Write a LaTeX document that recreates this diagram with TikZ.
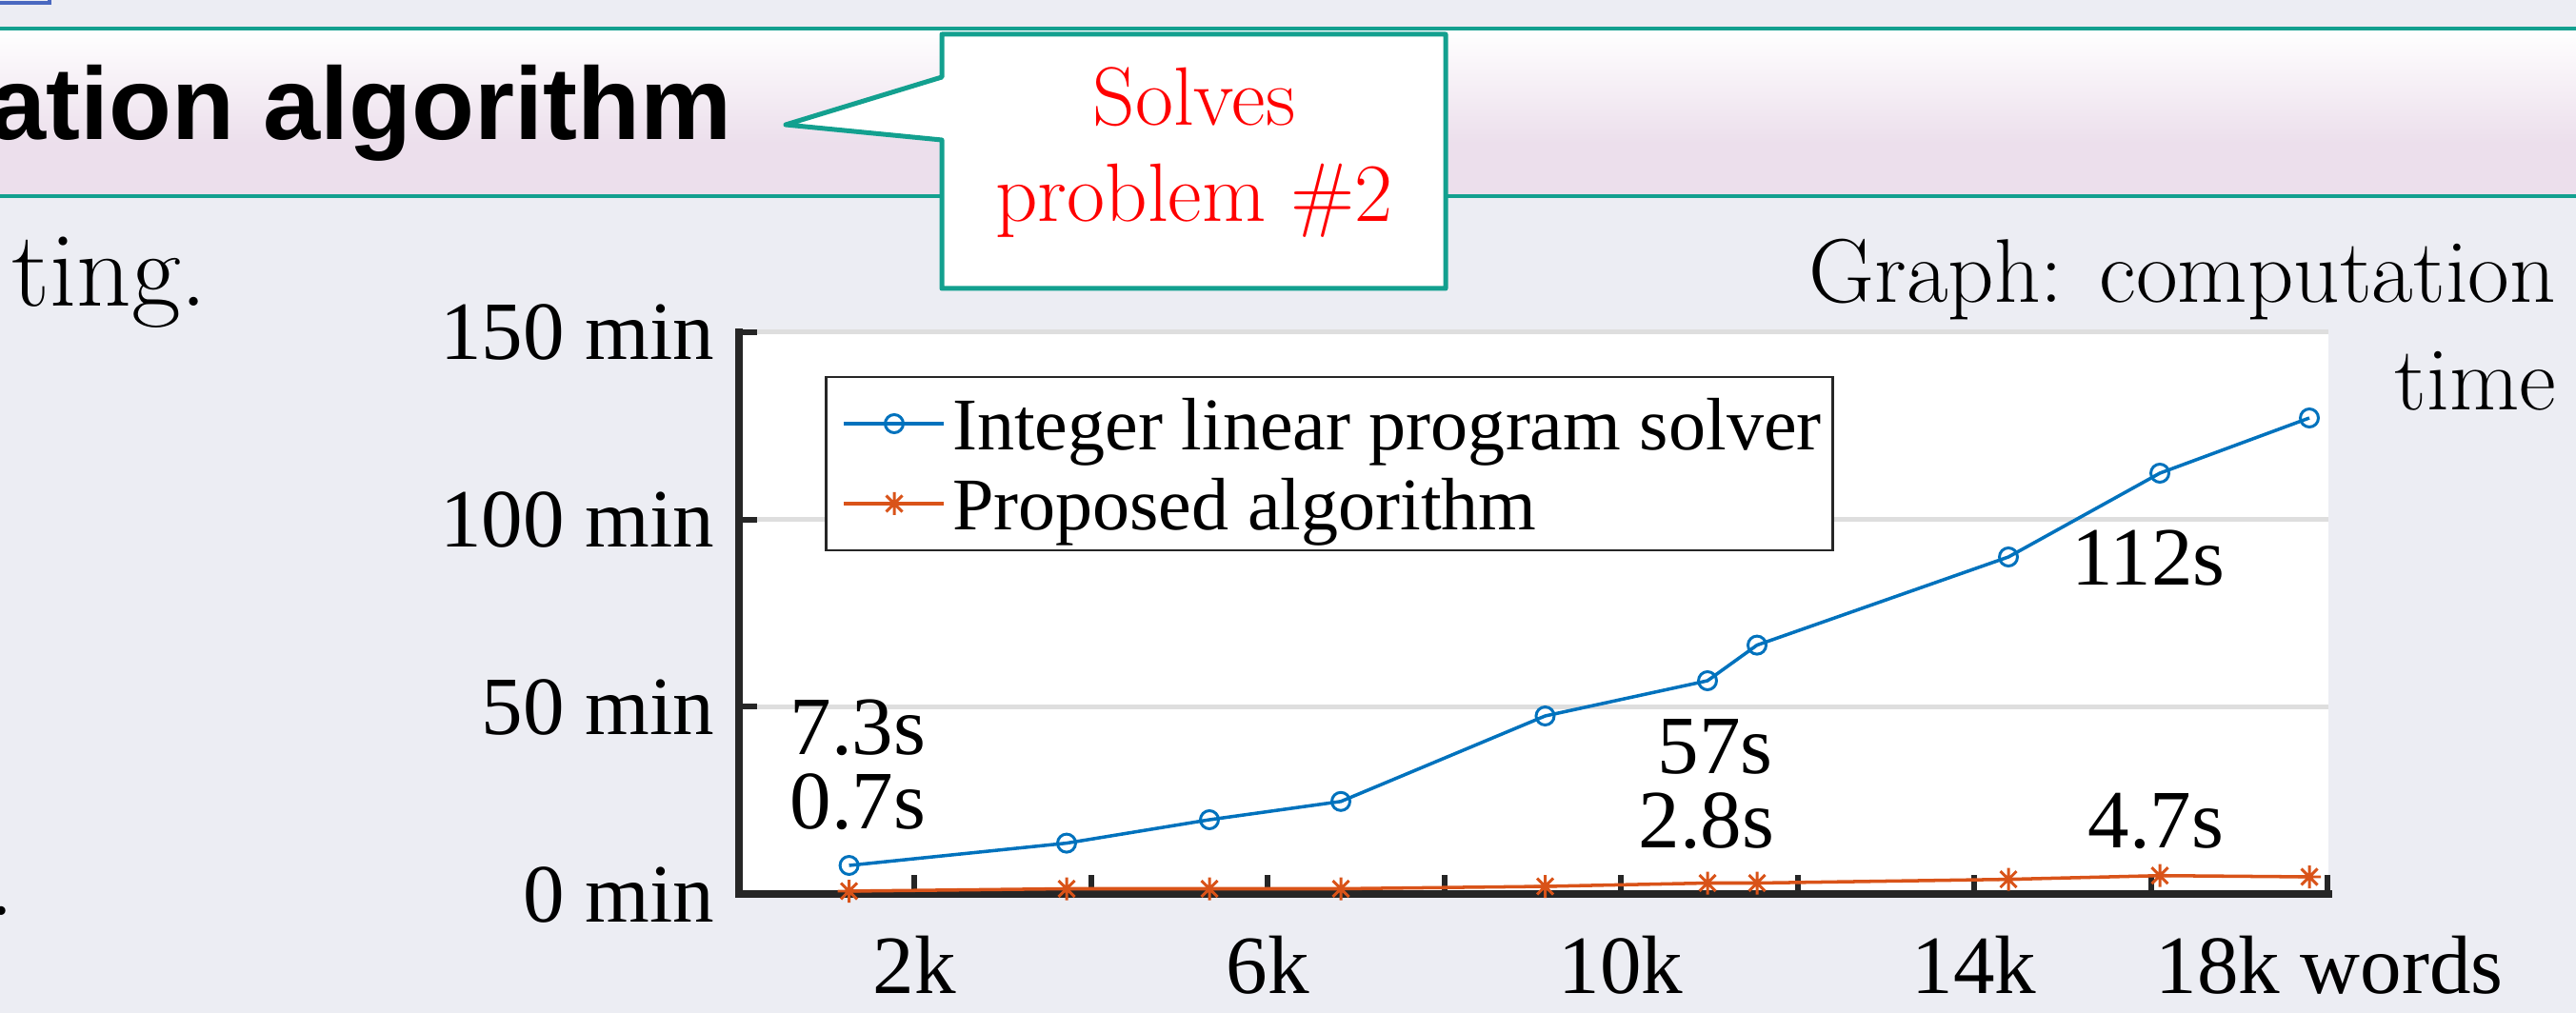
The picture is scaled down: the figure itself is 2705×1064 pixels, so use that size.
\documentclass[tikz,border=0pt]{standalone}
\usepackage{fontspec}
\newfontfamily\chartfont{Liberation Serif}
\newfontfamily\headfont{Liberation Sans}
\definecolor{slidebg}{HTML}{ECEDF3}
\definecolor{bandpink}{HTML}{ECDFEC}
\definecolor{teal}{HTML}{13A08F}
\definecolor{navblue}{HTML}{4A68C0}
\definecolor{mblue}{HTML}{0072BD}
\definecolor{morange}{HTML}{D95319}
\definecolor{axisgray}{HTML}{262626}
\definecolor{gridgray}{HTML}{DEDEDE}
\tikzset{
  txt/.style={inner sep=0pt, outer sep=0pt},
  headtxt/.style={txt, font=\headfont\bfseries\fontsize{30.7pt}{34pt}\selectfont},
  slidetxt/.style={txt, font=\fontsize{27pt}{32pt}\selectfont},
  bodytxt/.style={txt, font=\fontsize{32pt}{36pt}\selectfont},
  calltxt/.style={txt, text=red, font=\fontsize{24.75pt}{29pt}\selectfont},
  charttxt/.style={txt, text=black, font=\chartfont\fontsize{24.75pt}{29pt}\selectfont},
  legtxt/.style={txt, text=black, font=\chartfont\fontsize{22.2pt}{26pt}\selectfont},
  callout/.style={draw=teal, fill=white, line width=1.42pt, line join=round},
  axisline/.style={draw=axisgray, line width=2.3pt},
  tickline/.style={draw=axisgray, line width=1.7pt},
  gridline/.style={draw=gridgray, line width=1.42pt},
  blueline/.style={draw=mblue, line width=1.0pt},
  orangeline/.style={draw=morange, line width=1.0pt},
  bluemark/.style={draw=mblue, line width=0.85pt},
  orgmark/.style={draw=morange, line width=0.85pt},
}
\newcommand\astmark[1]{%
  \draw[orgmark] (#1) ++(0,-12) -- ++(0,24)
                 (#1) ++(-12,0) -- ++(24,0)
                 (#1) ++(-8.5,-8.5) -- ++(17,17)
                 (#1) ++(-8.5,8.5) -- ++(17,-17);}
\newcommand\ringmark[1]{\draw[bluemark] (#1) circle[radius=2.7pt];}
\begin{document}
\begin{tikzpicture}[x=0.01cm, y=-0.01cm]
  % page background
  \fill[slidebg] (0,0) rectangle (2705,1064);
  \useasboundingbox (0,0) rectangle (2705,1064);

  % navigation button remnant
  \draw[navblue, line width=0.9pt, fill=slidebg] (-20,-30) rectangle (52,3);

  % title band
  \shade[top color=white, bottom color=bandpink] (0,30) rectangle (2705,150);
  \fill[bandpink] (0,149) rectangle (2705,206);
  \draw[teal, line width=0.9pt] (0,30) -- (2705,30);
  \draw[teal, line width=0.9pt] (0,206) -- (2705,206);
  \node[headtxt, anchor=base east] (title) at (768,147) {ation algorithm};

  % body text
  \node[bodytxt, anchor=base east] (bodyline) at (218,322) {ting.};
  \node[bodytxt, anchor=base west] (bodydot) at (-12,961) {.};
  \node[slidetxt, anchor=base east] (cap1) at (2684,318) {Graph: computation};
  \node[slidetxt, anchor=base east] (cap2) at (2684,431) {time};

  % callout
  \draw[callout] (989,36) -- (1518,36) -- (1518,303) -- (989,303)
                 -- (989,147) -- (825,131) -- (989,81) -- cycle;
  \node[calltxt, anchor=base] (solves) at (1254,132) {Solves};
  \node[calltxt, anchor=base] (problem) at (1254,233) {problem \#2};

  % plot area and grid
  \fill[white] (776,349) rectangle (2445,939);
  \foreach \gy in {349,545.7,742.3}
    \draw[gridline] (776,\gy) -- (2445,\gy);

  % axes
  \coordinate (origin) at (776,939);
  \coordinate (ytop) at (776,349);
  \coordinate (xend) at (2445,939);
  \draw[axisline, line cap=rect] (ytop) -- (origin) -- (xend);
  \foreach \gy in {349,545.7,742.3}
    \draw[tickline] (776,\gy) -- (795,\gy);
  \foreach \gx in {960,1145.5,1331,1516.5,1702,1887.5,2073,2258.5,2444}
    \draw[tickline] (\gx,939) -- (\gx,919);

  % axis labels
  \node[charttxt, anchor=base east] (y150) at (750,378) {150 min};
  \node[charttxt, anchor=base east] (y100) at (750,574.7) {100 min};
  \node[charttxt, anchor=base east] (y50) at (750,771.3) {50 min};
  \node[charttxt, anchor=base east] (y0) at (750,968) {0 min};
  \node[charttxt, anchor=base] (x2) at (960,1043) {2k};
  \node[charttxt, anchor=base] (x6) at (1331,1043) {6k};
  \node[charttxt, anchor=base] (x10) at (1702,1043) {10k};
  \node[charttxt, anchor=base] (x14) at (2073,1043) {14k};
  \node[charttxt, anchor=base] (x18) at (2446,1043) {18k words};

  % data points
  \coordinate (b1) at (891.6,909);
  \coordinate (b2) at (1120,885.6);
  \coordinate (b3) at (1270,861);
  \coordinate (b4) at (1408,841.8);
  \coordinate (b5) at (1622.5,752);
  \coordinate (b6) at (1793,715);
  \coordinate (b7) at (1845,677.6);
  \coordinate (b8) at (2109,585);
  \coordinate (b9) at (2268,497);
  \coordinate (b10) at (2425,439);
  \coordinate (r1) at (891.6,936);
  \coordinate (r2) at (1120,933.5);
  \coordinate (r3) at (1270,933.5);
  \coordinate (r4) at (1408,933.5);
  \coordinate (r5) at (1622.5,931);
  \coordinate (r6) at (1793,927.5);
  \coordinate (r7) at (1845,927.5);
  \coordinate (r8) at (2109,923.6);
  \coordinate (r9) at (2268,919.7);
  \coordinate (r10) at (2425,921);

  \draw[blueline] (b1) -- (b2) -- (b3) -- (b4) -- (b5) -- (b6) -- (b7) -- (b8) -- (b9) -- (b10);
  \draw[orangeline] (r1) -- (r2) -- (r3) -- (r4) -- (r5) -- (r6) -- (r7) -- (r8) -- (r9) -- (r10);
  \foreach \i in {1,...,10} {\ringmark{b\i}}
  \foreach \i in {1,...,10} {\astmark{r\i}}

  % value labels
  \node[charttxt, anchor=base] (v73) at (901,792) {7.3s};
  \node[charttxt, anchor=base] (v07) at (901,870) {0.7s};
  \node[charttxt, anchor=base] (v57) at (1801,812) {57s};
  \node[charttxt, anchor=base] (v28) at (1792,890) {2.8s};
  \node[charttxt, anchor=base] (v112) at (2256,614) {112s};
  \node[charttxt, anchor=base] (v47) at (2264,890) {4.7s};

  % legend
  \draw[draw=axisgray, fill=white, line width=0.85pt] (867,396) rectangle (1924,578);
  \coordinate (l1a) at (886,445);
  \coordinate (l1b) at (991,445);
  \coordinate (l1m) at (939,445);
  \coordinate (l2a) at (886,529);
  \coordinate (l2b) at (991,529);
  \coordinate (l2m) at (939,529);
  \draw[blueline] (l1a) -- (l1b);
  \ringmark{l1m}
  \draw[orangeline] (l2a) -- (l2b);
  \astmark{l2m}
  \node[legtxt, anchor=base west] (leg1) at (1000,473) {Integer linear program solver};
  \node[legtxt, anchor=base west] (leg2) at (1000,557) {Proposed algorithm};
\end{tikzpicture}
\end{document}
